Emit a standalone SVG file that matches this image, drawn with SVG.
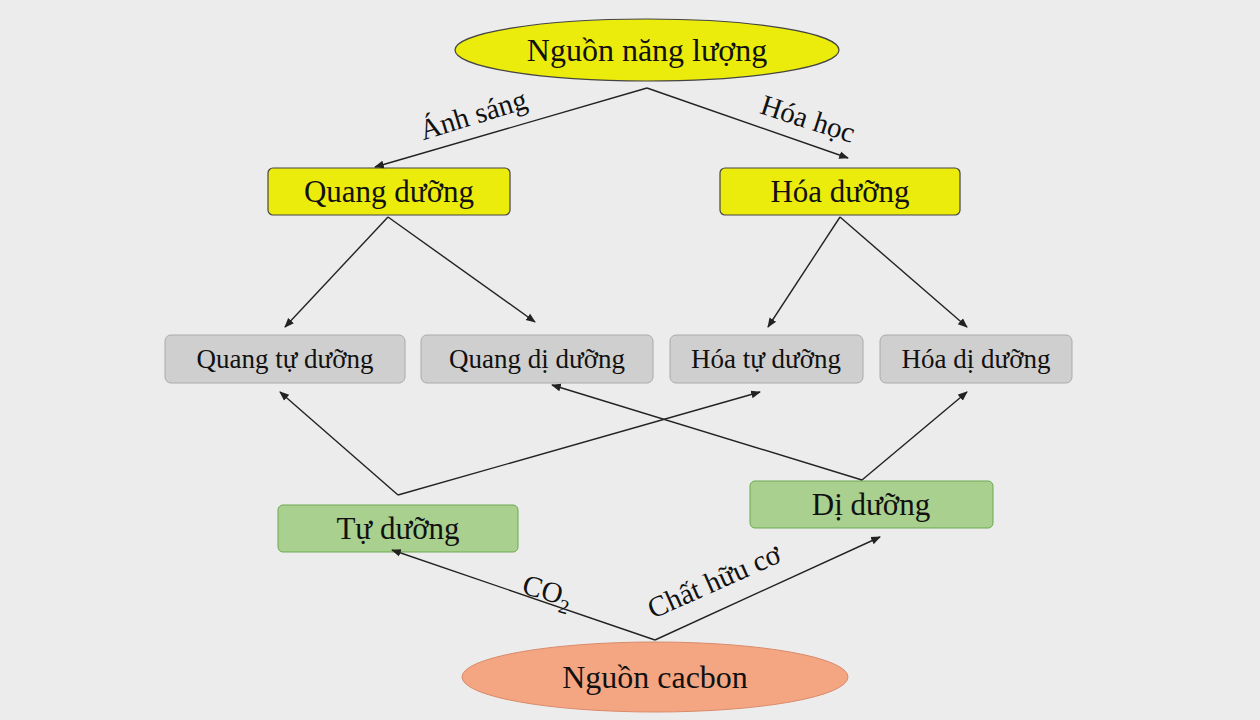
<svg xmlns="http://www.w3.org/2000/svg" width="1260" height="720" viewBox="0 0 1260 720">
<defs>
<marker id="a" viewBox="0 0 10 10" refX="9" refY="5" markerWidth="7" markerHeight="7" orient="auto"><path d="M0,1 L10,5 L0,9 z" fill="#222"/></marker>
<style>
text{font-family:"Liberation Serif",serif;fill:#111;text-anchor:middle}
.y{fill:#ecec0c;stroke:#444;stroke-width:1.2}
.g{fill:#cfcfcf;stroke:#aaa;stroke-width:1}
.gr{fill:#a9d08e;stroke:#6aa84f;stroke-width:1}
.c line{stroke:#222;stroke-width:1.4;marker-end:url(#a)}
</style>
</defs>
<rect width="1260" height="720" fill="#ececec"/>
<g id="top"><ellipse cx="647" cy="50" rx="192" ry="31" class="y"/><text x="647" y="61" font-size="32">Nguồn năng lượng</text></g>
<g id="quangduong"><rect x="268" y="168" width="242" height="47" rx="5" class="y"/><text x="389" y="202" font-size="31">Quang dưỡng</text></g>
<g id="hoaduong"><rect x="720" y="168" width="240" height="47" rx="5" class="y"/><text x="840" y="202" font-size="31">Hóa dưỡng</text></g>
<g id="qtd"><rect x="165" y="335" width="240" height="48" rx="6" class="g"/><text x="285" y="368" font-size="27">Quang tự dưỡng</text></g>
<g id="qdd"><rect x="421" y="335" width="232" height="48" rx="6" class="g"/><text x="537" y="368" font-size="27">Quang dị dưỡng</text></g>
<g id="htd"><rect x="670" y="335" width="193" height="48" rx="6" class="g"/><text x="766" y="368" font-size="27">Hóa tự dưỡng</text></g>
<g id="hdd"><rect x="880" y="335" width="192" height="48" rx="6" class="g"/><text x="976" y="368" font-size="27">Hóa dị dưỡng</text></g>
<g id="tuduong"><rect x="278" y="505" width="240" height="47" rx="5" class="gr"/><text x="398" y="539" font-size="31">Tự dưỡng</text></g>
<g id="diduong"><rect x="750" y="481" width="243" height="47" rx="5" class="gr"/><text x="871" y="515" font-size="31">Dị dưỡng</text></g>
<g id="bottom"><ellipse cx="655" cy="677" rx="193" ry="35" fill="#f4a582" stroke="#d98b6a" stroke-width="1"/><text x="655" y="688" font-size="32">Nguồn cacbon</text></g>
<g class="c">
<line x1="647" y1="88" x2="375" y2="167"/><line x1="647" y1="88" x2="848" y2="158"/>
<line x1="388" y1="217" x2="285" y2="327"/><line x1="388" y1="217" x2="535" y2="322"/>
<line x1="840" y1="217" x2="768" y2="327"/><line x1="840" y1="217" x2="967" y2="327"/>
<line x1="398" y1="495" x2="280" y2="392"/><line x1="398" y1="495" x2="760" y2="392"/>
<line x1="862" y1="480" x2="552" y2="385"/><line x1="862" y1="480" x2="967" y2="392"/>
<line x1="655" y1="640" x2="392" y2="550"/><line x1="655" y1="640" x2="880" y2="537"/>
<text x="476" y="124" font-size="29" transform="rotate(-17 476 124)">Ánh sáng</text>
<text x="805" y="128" font-size="29" transform="rotate(18 805 128)">Hóa học</text>
<text x="545" y="600" font-size="29" transform="rotate(16 545 600)">CO<tspan font-size="20" dy="8">2</tspan></text>
<text x="718" y="590" font-size="29" transform="rotate(-24 718 590)">Chất hữu cơ</text>
</g>
</svg>
